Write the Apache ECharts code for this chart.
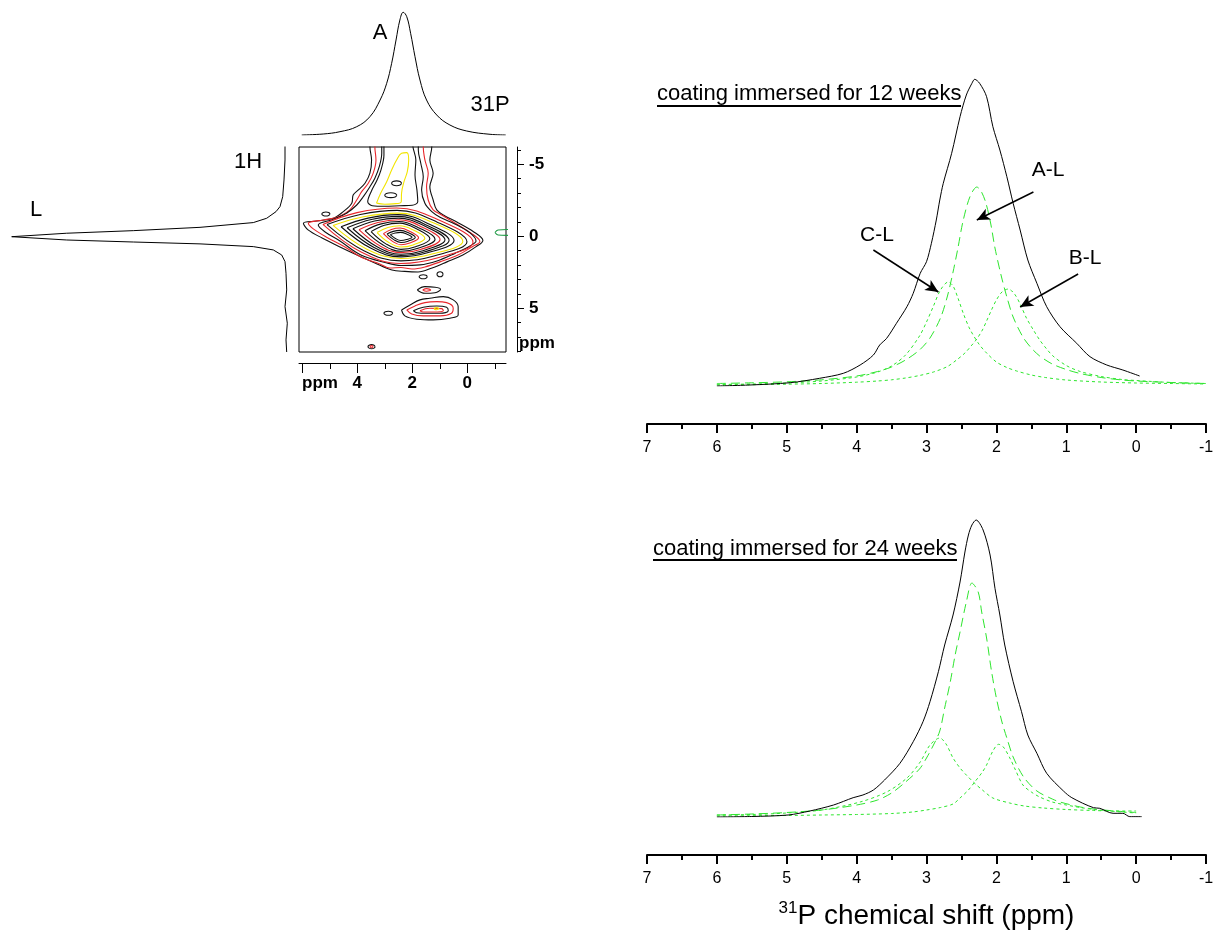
<!DOCTYPE html>
<html>
<head>
<meta charset="utf-8">
<script src="https://cdn.jsdelivr.net/npm/echarts@6/dist/echarts.min.js"></script>
<style>html,body{margin:0;background:#fff}#main{width:1220px;height:943px}</style>
</head>
<body>
<div id="main"></div>
<script>
const FONT = '"Liberation Sans", Arial, Helvetica, sans-serif';

// ---- 2D HETCOR: 31P projection (top) ----
const p31Shift = [6.02,5.24,4.63,4.02,3.54,3.17,2.93,2.75,2.59,2.45,2.33,2.20,2.06,1.90,1.72,1.48,1.11,0.63,0.02,-0.83,-1.40];
const p31Int   = [0,1,3.3,8.3,18.3,35,51.7,71.7,95,115,122.7,118.3,101.7,78.3,55,35,20,10,4,0.7,0];

// ---- 1H projection (left) ----
const h1Shift = [-6.27,-5.30,-3.91,-2.75,-2.06,-1.71,-1.25,-0.95,-0.62,-0.39,-0.21,0.03,0.26,0.40,0.53,0.72,0.95,1.30,1.76,2.57,3.73,4.89,6.04,7.20,8.04];
const h1Int   = [0,0,1,2.3,5,9,18.3,31.7,85,151.7,218.3,273.3,218.3,151.7,85,31.7,11.7,3.3,0,-1,-1.7,0,-2.3,-1,-1.7];

// ---- contour lines, [31P ppm, 1H ppm] ----
const k01 = [[2.80,-0.11],[2.62,-0.22],[2.43,-0.27],[2.19,-0.14],[2.01,0.07],[2.21,0.23],[2.41,0.29],[2.60,0.17]];
const k02 = [[2.92,-0.15],[2.69,-0.34],[2.44,-0.41],[2.12,-0.22],[1.89,0.09],[2.15,0.34],[2.41,0.43],[2.66,0.25]];
const k03 = [[3.05,-0.18],[2.76,-0.47],[2.44,-0.57],[2.06,-0.31],[1.77,0.11],[2.09,0.47],[2.41,0.59],[2.73,0.34]];
const k04 = [[3.28,-0.26],[2.89,-0.61],[2.45,-0.73],[1.93,-0.40],[1.54,0.14],[1.97,0.60],[2.41,0.75],[2.85,0.44]];
const k05 = [[3.50,-0.32],[3.01,-0.77],[2.46,-0.91],[1.83,-0.50],[1.36,0.17],[1.88,0.73],[2.41,0.91],[2.96,0.53]];
const k06 = [[3.72,-0.39],[3.13,-0.86],[2.48,-1.03],[1.73,-0.56],[1.17,0.20],[1.79,0.83],[2.41,1.04],[3.06,0.61]];
const k07 = [[3.94,-0.46],[3.25,-0.96],[2.49,-1.15],[1.63,-0.63],[0.99,0.23],[1.70,0.92],[2.41,1.14],[3.17,0.67]];
const k08 = [[4.16,-0.52],[3.37,-1.06],[2.50,-1.26],[1.53,-0.69],[0.81,0.25],[1.61,1.00],[2.41,1.25],[3.28,0.73]];
const k09 = [[4.37,-0.59],[3.49,-1.16],[2.51,-1.38],[1.45,-0.75],[0.66,0.28],[1.54,1.08],[2.41,1.34],[3.39,0.78]];
const k10 = [[4.59,-0.66],[3.61,-1.26],[2.52,-1.50],[1.35,-0.82],[0.48,0.30],[1.45,1.15],[2.41,1.43],[3.50,0.84]];
const k11 = [[4.88,-0.75],[3.77,-1.35],[2.54,-1.61],[1.17,-0.88],[0.16,0.35],[1.28,1.23],[2.41,1.54],[3.65,0.90]];
const k12 = [[5.10,-0.81],[3.89,-1.51],[2.55,-1.80],[1.09,-0.98],[0.01,0.38],[1.21,1.37],[2.41,1.71],[3.76,1.00]];
const k13 = [[5.25,-0.82],[4.01,-1.64],[2.57,-1.96],[0.97,-1.07],[-0.21,0.41],[1.10,1.51],[2.41,1.89],[3.86,1.10]];
// ridge towards the top of the map (open, runs out of the box)
const k14 = [[3.11,-6.69],[3.11,-5.76],[3.20,-4.83],[3.36,-4.03],[3.54,-3.44],[3.78,-2.75],[4.02,-2.17],[4.39,-1.60],[4.87,-1.18],[5.42,-0.78],
  [5.17,-0.30],[4.63,0.33],[3.87,1.30],[2.99,1.82],[2.41,2.03],[1.72,1.99],[1.10,1.72],[0.45,1.19],[-0.10,0.67],[-0.32,0.33],
  [-0.10,-0.23],[0.45,-0.85],[0.99,-1.32],[1.29,-1.71],[1.54,-2.29],[1.66,-3.22],[1.60,-4.14],[1.69,-5.07],[1.78,-5.99],[1.78,-6.69]];
const k15 = [[3.36,-6.69],[3.36,-6.22],[3.32,-5.30],[3.42,-4.38],[3.60,-3.68],[3.84,-3.10],[4.02,-2.52],[4.27,-1.83],[4.75,-1.32],[5.24,-1.13],[5.78,-0.90],
  [5.60,-0.51],[5.10,0.08],[4.45,0.74],[3.87,1.44],[3.18,1.92],[2.81,2.20],[2.41,2.17],[2.01,2.27],[1.54,2.13],[0.99,1.78],[0.34,1.30],[-0.17,0.74],[-0.46,0.36],
  [-0.13,-0.23],[0.45,-0.92],[0.93,-1.48],[1.24,-1.83],[1.42,-2.52],[1.48,-3.44],[1.42,-4.38],[1.54,-5.30],[1.60,-6.22],[1.60,-6.69]];
const k16 = [[3.54,-6.69],[3.54,-6.22],[3.48,-5.30],[3.54,-4.38],[3.72,-3.68],[3.96,-3.22],[4.15,-2.87],[4.20,-2.29],[4.51,-1.71],[4.87,-1.25],[5.48,-1.06],[5.96,-0.90],
  [5.79,-0.44],[5.28,0.12],[4.63,0.74],[4.01,1.30],[3.36,1.85],[2.74,2.34],[2.27,2.44],[1.79,2.48],[1.28,2.20],[0.74,1.78],[0.16,1.30],[-0.31,0.74],[-0.57,0.29],
  [-0.24,-0.30],[0.38,-0.99],[0.81,-1.41],[1.11,-1.83],[1.24,-2.52],[1.36,-3.44],[1.24,-4.38],[1.36,-5.30],[1.29,-6.22],[1.29,-6.69]];
const ridgeIn = [[3.03,-6.69],[3.03,-5.65],[3.14,-4.60],[3.28,-3.91],[3.50,-3.08],[3.62,-2.40],[3.45,-2.12],[3.00,-2.08],[2.45,-2.12],[2.00,-2.15],
  [1.80,-2.40],[1.83,-3.22],[1.90,-4.26],[1.87,-5.30],[1.98,-6.34],[1.98,-6.69]];
const ridgeYellow = [[3.30,-2.30],[3.15,-2.99],[2.93,-3.79],[2.75,-4.60],[2.57,-5.30],[2.39,-5.76],[2.20,-5.81],[2.13,-5.30],[2.18,-4.49],[2.30,-3.79],[2.39,-2.99],[2.40,-2.40],[2.70,-2.25],[3.00,-2.22]];
const ridgeLoopA = [[2.39,-3.68],[2.44,-3.56],[2.57,-3.51],[2.70,-3.56],[2.75,-3.68],[2.70,-3.80],[2.57,-3.85],[2.44,-3.80]];
const ridgeLoopB = [[2.56,-2.85],[2.62,-2.73],[2.78,-2.68],[2.94,-2.73],[3.00,-2.85],[2.94,-2.97],[2.78,-3.02],[2.62,-2.97]];
// small islands
const isl1 = [[4.99,-1.55],[5.04,-1.45],[5.14,-1.41],[5.24,-1.45],[5.29,-1.55],[5.24,-1.65],[5.14,-1.69],[5.04,-1.65]];
const isl2 = [[1.45,2.81],[1.50,2.91],[1.60,2.95],[1.70,2.91],[1.75,2.81],[1.70,2.71],[1.60,2.67],[1.50,2.71]];
const isl3 = [[0.88,2.64],[0.91,2.76],[0.99,2.81],[1.07,2.76],[1.10,2.64],[1.07,2.52],[0.99,2.47],[0.91,2.52]];
const isl4 = [[2.71,5.35],[2.76,5.45],[2.87,5.49],[2.98,5.45],[3.03,5.35],[2.98,5.25],[2.87,5.21],[2.76,5.25]];
const isl5 = [[3.35,7.67],[3.39,7.77],[3.48,7.81],[3.57,7.77],[3.61,7.67],[3.57,7.57],[3.48,7.53],[3.39,7.57]];
const isl5r = [[3.43,7.67],[3.44,7.72],[3.48,7.74],[3.52,7.72],[3.53,7.67],[3.52,7.62],[3.48,7.60],[3.44,7.62]];
const mini1 = [[1.82,3.73],[1.54,3.50],[1.17,3.54],[0.97,3.68],[1.17,3.92],[1.54,3.96]];
const mini1r = [[1.62,3.73],[1.48,3.64],[1.33,3.73],[1.48,3.82]];
// second cross peak (around 31P 1.3 ppm / 1H 5 ppm)
const low1 = [[2.39,5.12],[2.08,4.77],[1.72,4.42],[1.36,4.31],[0.87,4.19],[0.51,4.42],[0.33,4.89],[0.33,5.47],[0.63,5.69],[1.24,5.81],[1.84,5.76],[2.27,5.53]];
const low2 = [[2.20,5.12],[1.90,4.84],[1.54,4.61],[1.11,4.54],[0.75,4.61],[0.51,5.00],[0.57,5.35],[0.99,5.53],[1.60,5.53],[2.02,5.40]];
const low3 = [[1.96,5.17],[1.60,4.93],[1.11,4.84],[0.75,4.93],[0.69,5.17],[0.99,5.35],[1.48,5.35],[1.84,5.31]];
const low4 = [[1.72,5.17],[1.36,5.00],[0.93,5.03],[0.87,5.17],[1.24,5.26],[1.60,5.26]];
const low5 = [[1.02,5.03],[1.11,4.96],[1.20,5.03],[1.11,5.10]];
const greenLoop = [[-1.01,-0.26],[-1.12,-0.44],[-1.44,-0.47],[-1.77,-0.44],[-1.88,-0.26],[-1.77,-0.09],[-1.44,-0.06],[-1.12,-0.09]];

// ---- 31P spectra: 12 weeks ----
const w12Shift = [6.00,5.53,4.95,4.53,4.19,3.95,3.76,3.67,3.57,3.43,3.28,3.19,3.09,3.00,2.93,2.86,2.81,2.76,2.64,2.52,2.43,2.35,2.31,2.24,2.14,2.05,1.95,1.85,1.76,1.66,1.55,1.42,1.28,1.09,0.85,0.66,0.42,0.19,-0.05];
const w12Obs   = [0,1,3.3,7.7,12.7,21,31,41,47.7,62.7,79.3,92.7,112.7,124.3,142.7,166,186,202.7,232.7,269.3,291,302.7,306.7,302.7,289.3,259.3,236,209.3,182.7,156,126,102.7,79.3,59.3,42.7,29.3,21,16,10];
const w12AL = [[6.0,2.5],[5.5,3.2],[5.0,4.2],[4.5,6.2],[4.0,10],[3.7,14.5],[3.5,19],[3.3,26],[3.1,36],[2.95,48],[2.8,68],[2.7,90],[2.62,114],[2.55,138],[2.48,164],[2.38,189],[2.28,199],[2.22,195],[2.15,183],[2.08,162],[2.02,138],[1.93,110],[1.85,89],[1.76,69],[1.62,49],[1.5,38],[1.38,30],[1.2,22],[1.0,16.5],[0.8,12.5],[0.5,8.5],[0.2,6],[0,5],[-0.5,3.5],[-1,2.5]];
const w12CL = [[6.0,1.5],[5.5,2],[5.0,3],[4.5,5],[4.0,9],[3.7,14],[3.5,20],[3.3,31],[3.1,50],[3.0,64],[2.9,80],[2.8,96],[2.69,104],[2.62,100],[2.55,88],[2.47,72],[2.38,57],[2.25,42],[2.14,33],[2.0,24],[1.85,18.5],[1.71,15],[1.5,11],[1.3,8.5],[1.0,6],[0.5,4],[0,3],[-0.5,2.5],[-1,2]];
const w12BL = [[6.0,1],[5.5,1.3],[5.0,1.8],[4.5,2.5],[4.0,3.8],[3.7,5],[3.5,6.2],[3.3,8],[3.1,10.5],[2.9,14],[2.7,19.5],[2.57,26],[2.45,33],[2.35,41],[2.28,47],[2.2,56],[2.14,65],[2.07,76],[2.0,86],[1.92,94],[1.83,97],[1.74,92],[1.66,82],[1.57,68],[1.47,56],[1.38,46],[1.28,37],[1.19,30],[1.0,20.5],[0.8,14.5],[0.5,9.5],[0.2,6.5],[0,5.5],[-0.5,3.5],[-1,2.5]];
const arrowAL = [[1.47,194],[2.28,166]];
const arrowBL = [[0.83,112],[1.66,79]];
const arrowCL = [[3.76,136],[2.83,94]];

// ---- 31P spectra: 24 weeks ----
const w24Shift = [6.00,5.50,4.98,4.67,4.33,4.05,3.91,3.76,3.60,3.38,3.19,3.05,2.95,2.83,2.74,2.62,2.52,2.45,2.40,2.35,2.29,2.19,2.09,2.02,1.95,1.88,1.76,1.64,1.55,1.42,1.28,1.04,0.92,0.61,0.52,0.33,0.19,0.09,-0.08];
const w24Obs   = [0,0.5,2,6,12,19.3,22,27,37,53.7,75.3,95.3,115.3,145.3,172,202,235,265,282,292,297,287,262,228.7,202,172,135.3,105.3,82,63.7,43.7,26,19.3,9.3,8.7,3.7,3.7,0.3,0.3];
const w24AL = [[6.0,2],[5.5,3],[5.0,4.5],[4.5,7],[4.0,12],[3.7,17],[3.5,24],[3.3,35],[3.1,48],[3.0,59],[2.9,72],[2.81,86],[2.74,109],[2.66,135],[2.59,162],[2.52,185],[2.43,215],[2.35,234],[2.26,225],[2.21,205],[2.14,179],[2.07,146],[2.0,119],[1.92,95],[1.85,79],[1.76,60],[1.61,40],[1.42,26],[1.2,18],[1.09,15],[0.8,10],[0.61,8],[0.3,6],[0,4.5]];
const w24CL = [[6.0,2],[5.5,2.5],[5.0,4],[4.5,7],[3.95,15],[3.57,25],[3.28,39],[3.09,55],[2.95,72],[2.81,79],[2.72,73],[2.62,59],[2.52,49],[2.43,42],[2.3,33],[2.2,27],[2.05,19],[1.81,14],[1.6,11],[1.33,9],[1.0,7.5],[0.61,6.5],[0.3,6],[0,6]];
const w24BL = [[6.0,1],[5.0,1.5],[4.5,2],[4.0,2.5],[3.5,3.5],[3.2,5],[3.0,7],[2.8,9.5],[2.62,13],[2.52,19],[2.4,27],[2.31,35],[2.2,45],[2.14,52],[2.05,66],[1.97,72.7],[1.9,70],[1.8,58],[1.74,49],[1.62,32],[1.5,25],[1.38,20],[1.2,15],[1.0,12],[0.8,9.5],[0.6,7.5],[0.38,6],[0.2,5],[0,4]];

const BLACK = '#111', RED = '#e8262b', YELLOW = '#f2e400', GREEN = '#2ee62e';

const zip = (xs, ys) => xs.map((x, i) => [x, ys[i]]);
const close = pts => pts.concat([pts[0]]);

function line(gi, data, color, opts) {
  opts = opts || {};
  return {
    type: 'line', xAxisIndex: gi, yAxisIndex: gi, data: data,
    symbol: 'none', silent: true, smooth: opts.smooth == null ? 0.3 : opts.smooth,
    lineStyle: { color: color, width: opts.width || 1, type: opts.dash || 'solid' },
    z: opts.z || 2
  };
}

// which contour gets which colour
const closedContours = [
  [k13, RED], [k12, BLACK], [k11, YELLOW], [k10, BLACK], [k09, BLACK], [k08, BLACK], [k07, RED],
  [k06, BLACK], [k05, BLACK], [k04, YELLOW], [k03, RED], [k02, BLACK], [k01, BLACK],
  [ridgeYellow, YELLOW], [ridgeLoopA, BLACK], [ridgeLoopB, BLACK],
  [isl1, BLACK], [isl2, BLACK], [isl3, BLACK], [isl4, BLACK], [isl5, BLACK], [isl5r, RED],
  [mini1, BLACK], [mini1r, RED],
  [low1, BLACK], [low2, RED], [low3, BLACK], [low4, RED], [low5, YELLOW],
  [greenLoop, '#1f9a45']
];
const openContours = [[k16, BLACK], [k15, RED], [k14, BLACK], [ridgeIn, BLACK]];

const series = [];
series.push(line(0, zip(p31Shift, p31Int), '#000', { smooth: 0.4 }));
series.push(line(1, zip(h1Int, h1Shift), '#000', { smooth: false }));
openContours.forEach(c => series.push(line(2, c[0], c[1], { smooth: 0.35, width: 1.1 })));
closedContours.forEach(c => series.push(line(2, close(c[0]), c[1], { smooth: 0.4, width: 1.1 })));

const arrowStyle = { color: '#000', width: 1.5, type: 'solid' };
const w12ALSeries = line(7, w12AL, GREEN, { dash: [9, 5] });
w12ALSeries.markLine = {
  silent: true, symbol: ['none', 'arrow'], symbolSize: [9, 13], animation: false,
  label: { show: false }, lineStyle: arrowStyle,
  data: [arrowAL, arrowBL, arrowCL].map(a => [{ coord: a[0] }, { coord: a[1] }])
};
series.push(line(7, w12CL, GREEN, { dash: [3, 3] }));
series.push(line(7, w12BL, GREEN, { dash: [3, 3] }));
series.push(w12ALSeries);
series.push(line(7, zip(w12Shift, w12Obs), '#000', { z: 3 }));

series.push(line(8, w24CL, GREEN, { dash: [3, 3] }));
series.push(line(8, w24BL, GREEN, { dash: [3, 3] }));
series.push(line(8, w24AL, GREEN, { dash: [9, 5] }));
series.push(line(8, zip(w24Shift, w24Obs), '#000', { z: 3 }));

const noAxis = { show: false };
const hidden = (gi, min, max, inverse) => ({ gridIndex: gi, type: 'value', min: min, max: max, inverse: !!inverse, show: false, splitLine: noAxis });

const tickFont = { color: '#000', fontFamily: FONT, fontSize: 17, fontWeight: 'bold' };
function tickAxis(gi, min, max, interval, pos, len, labels) {
  return {
    gridIndex: gi, type: 'value', min: min, max: max, interval: interval, inverse: true,
    position: pos, offset: 11,
    axisLine: { show: false, onZero: false },
    axisTick: { show: true, inside: false, length: len, lineStyle: { color: '#000', width: 1 } },
    axisLabel: labels ? Object.assign({ show: true, margin: 12, formatter: labels }, tickFont) : { show: false },
    splitLine: noAxis
  };
}

function specX(gi, withName) {
  const ax = {
    gridIndex: gi, type: 'value', min: -1, max: 7, interval: 1, inverse: true,
    position: 'bottom', offset: 38,
    axisLine: { show: true, onZero: false, lineStyle: { color: '#000', width: 2 } },
    axisTick: { show: true, inside: false, length: 9, lineStyle: { color: '#000', width: 2 } },
    minorTick: { show: true, splitNumber: 2, length: 5, lineStyle: { color: '#000', width: 2 } },
    axisLabel: { color: '#000', fontFamily: FONT, fontSize: 16, margin: 16 },
    splitLine: noAxis, minorSplitLine: noAxis
  };
  if (withName) {
    ax.name = '{s|31}P chemical shift (ppm)';
    ax.nameLocation = 'middle';
    ax.nameGap = 45;
    ax.nameTextStyle = {
      color: '#000', fontFamily: FONT, fontSize: 28, lineHeight: 33,
      rich: { s: { fontSize: 17, lineHeight: 33, verticalAlign: 'top', fontFamily: FONT, color: '#000' } }
    };
  }
  return ax;
}

const grids = [
  { left: 299, top: 10, width: 207, height: 125 },            // 0 31P projection
  { left: 5, top: 147, width: 285, height: 205 },             // 1 1H projection
  { left: 299, top: 147, width: 207, height: 205, show: true, borderColor: '#000', borderWidth: 1, backgroundColor: 'transparent' }, // 2 map
  { left: 302.3, top: 147, width: 192.5, height: 205 },       // 3 31P minor ticks
  { left: 302.3, top: 147, width: 165, height: 205 },         // 4 31P major ticks
  { left: 299, top: 149.9, width: 207, height: 201.6 },       // 5 1H minor ticks
  { left: 299, top: 164.3, width: 207, height: 144 },         // 6 1H major ticks
  { left: 647, top: 76, width: 559, height: 310 },            // 7 12 weeks
  { left: 647, top: 507, width: 559, height: 310 }            // 8 24 weeks
].map(g => Object.assign({ containLabel: false, outerBoundsMode: 'none' }, g));

const xAxes = [
  hidden(0, -1.41, 6.12, true),
  hidden(1, -5, 280, true),
  { gridIndex: 2, type: 'value', min: -1.41, max: 6.12, inverse: true, position: 'bottom', offset: 11,
    axisLine: { show: true, onZero: false, lineStyle: { color: '#000', width: 1 } }, axisTick: noAxis, axisLabel: noAxis, splitLine: noAxis },
  tickAxis(3, -1, 6, 1, 'bottom', 6, null),
  tickAxis(4, 0, 6, 2, 'bottom', 10, v => (v === 6 ? '' : String(v))),
  hidden(5, 0, 1), hidden(6, 0, 1),
  specX(7, false), specX(8, true)
];
const yAxes = [
  hidden(0, 0, 125),
  hidden(1, -6.20, 8.04, true),
  { gridIndex: 2, type: 'value', min: -6.20, max: 8.04, inverse: true, position: 'right', offset: 11,
    axisLine: { show: true, onZero: false, lineStyle: { color: '#000', width: 1 } }, axisTick: noAxis, axisLabel: noAxis, splitLine: noAxis },
  hidden(3, 0, 1), hidden(4, 0, 1),
  tickAxis(5, -6, 8, 1, 'right', 4, null),
  tickAxis(6, -5, 5, 5, 'right', 7, v => String(v)),
  hidden(7, 0, 310), hidden(8, 0, 310)
];

function txt(x, y, text, size, extra) {
  return {
    type: 'text', x: x, y: y, silent: true,
    style: Object.assign({ text: text, fill: '#000', fontSize: size, fontFamily: FONT,
      textAlign: 'center', textVerticalAlign: 'middle', align: 'center', verticalAlign: 'middle' }, extra || {})
  };
}
const left = { textAlign: 'left', align: 'left' };

const graphic = [
  txt(380, 33, 'A', 22),
  txt(490, 105, '31P', 22),
  txt(248, 162, '1H', 22),
  txt(36, 210, 'L', 22),
  txt(320, 383, 'ppm', 17, { fontWeight: 'bold' }),
  txt(537, 343, 'ppm', 17, { fontWeight: 'bold' }),
  txt(657, 94, 'coating immersed for 12 weeks', 22, left),
  { type: 'line', silent: true, shape: { x1: 657, y1: 106, x2: 961, y2: 106 }, style: { stroke: '#000', lineWidth: 2 } },
  txt(653, 549, 'coating immersed for 24 weeks', 22, left),
  { type: 'line', silent: true, shape: { x1: 653, y1: 560, x2: 957, y2: 560 }, style: { stroke: '#000', lineWidth: 2 } },
  txt(1048, 170, 'A-L', 21),
  txt(1085, 258, 'B-L', 21),
  txt(877, 235, 'C-L', 21)
];

const chart = echarts.init(document.getElementById('main'), null, { renderer: 'canvas' });
chart.setOption({
  animation: false,
  backgroundColor: '#fff',
  grid: grids,
  xAxis: xAxes,
  yAxis: yAxes,
  series: series,
  graphic: graphic
});
</script>
</body>
</html>
